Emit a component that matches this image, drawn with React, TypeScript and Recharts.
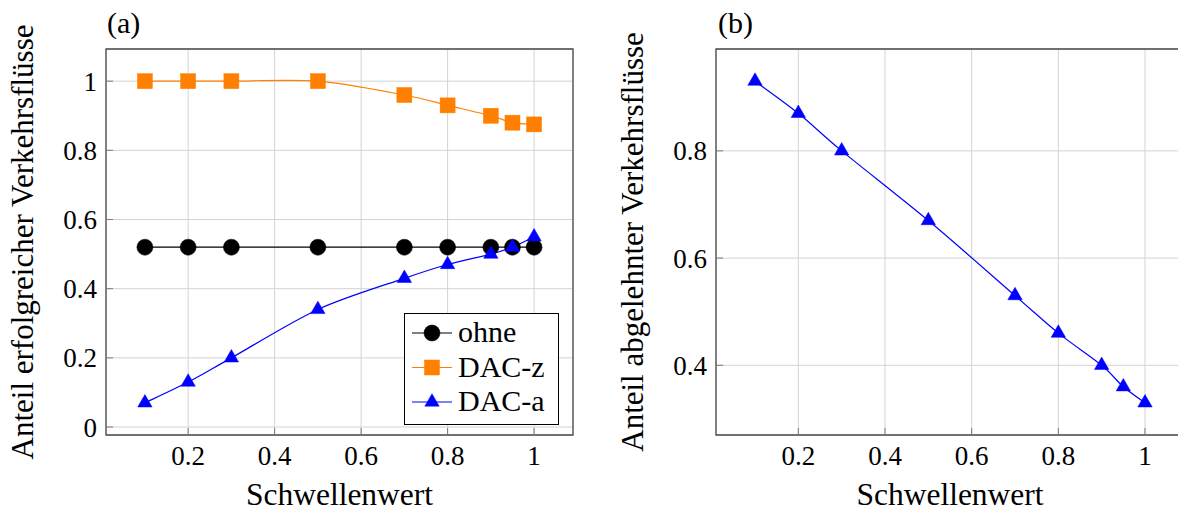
import React from 'react';
import { LineChart, Line, XAxis, YAxis, CartesianGrid, ReferenceArea, Legend } from 'recharts';

// ---- data ----
const thresholds = [0.1, 0.2, 0.3, 0.5, 0.7, 0.8, 0.9, 0.95, 1.0];
const ohne = [0.52, 0.52, 0.52, 0.52, 0.52, 0.52, 0.52, 0.52, 0.52];
const dacZ = [1.0, 1.0, 1.0, 1.0, 0.96, 0.93, 0.9, 0.88, 0.875];
const dacA = [0.07, 0.13, 0.2, 0.34, 0.43, 0.47, 0.5, 0.52, 0.55];
const rejected = [0.93, 0.87, 0.8, 0.67, 0.53, 0.46, 0.4, 0.36, 0.33];

const xTicks = [0.2, 0.4, 0.6, 0.8, 1];
const yTicksA = [0, 0.2, 0.4, 0.6, 0.8, 1];
const yTicksB = [0.4, 0.6, 0.8];
const xDomain: [number, number] = [0.01, 1.09];
const yDomainA: [number, number] = [-0.023, 1.093];
const yDomainB: [number, number] = [0.27, 0.99];

const seriesA = [
  { key: 'ohne', name: 'ohne', color: '#000000', marker: 'circle' },
  { key: 'dacZ', name: 'DAC-z', color: '#FF8000', marker: 'square' },
  { key: 'dacA', name: 'DAC-a', color: '#0000FF', marker: 'triangle' },
];

const dataA = thresholds.map((x, i) => ({ x, ohne: ohne[i], dacZ: dacZ[i], dacA: dacA[i] }));
const dataB = thresholds.map((x, i) => ({ x, rej: rejected[i] }));

const FONT = "'Liberation Serif', 'Times New Roman', Tinos, 'DejaVu Serif', 'Noto Serif', serif";

// TikZ-like smooth curve (cardinal spline)
const tikzSmooth = (context: any) => {
  let pts: [number, number][] = [];
  const k = 0.1526;
  return {
    areaStart() {},
    areaEnd() {},
    lineStart() {
      pts = [];
    },
    point(x: number, y: number) {
      pts.push([+x, +y]);
    },
    lineEnd() {
      const n = pts.length;
      if (!n) return;
      context.moveTo(pts[0][0], pts[0][1]);
      for (let i = 0; i < n - 1; i++) {
        const p0 = pts[Math.max(0, i - 1)];
        const p1 = pts[i];
        const p2 = pts[i + 1];
        const p3 = pts[Math.min(n - 1, i + 2)];
        context.bezierCurveTo(
          p1[0] + k * (p2[0] - p0[0]),
          p1[1] + k * (p2[1] - p0[1]),
          p2[0] - k * (p3[0] - p1[0]),
          p2[1] - k * (p3[1] - p1[1]),
          p2[0],
          p2[1]
        );
      }
    },
  };
};

const MarkerShape = ({ cx, cy, shape, color }: { cx: number; cy: number; shape: string; color: string }) => {
  if (cx == null || cy == null) return null;
  if (shape === 'circle') return <circle cx={cx} cy={cy} r={8} fill={color} stroke={color} strokeWidth={0.5} />;
  if (shape === 'square') return <rect x={cx - 7.5} y={cy - 7.5} width={15} height={15} fill={color} stroke={color} strokeWidth={0.5} />;
  const r = 8.3;
  const pts = `${cx},${cy - r} ${cx + 0.866 * r},${cy + 0.5 * r} ${cx - 0.866 * r},${cy + 0.5 * r}`;
  return <polygon points={pts} fill={color} stroke={color} strokeWidth={0.5} />;
};

const makeDot = (shape: string, color: string) => (props: any) => (
  <MarkerShape key={`${shape}-${props.index}`} cx={props.cx} cy={props.cy} shape={shape} color={color} />
);

const fmt = (v: number) => String(v);

const textCss = { fontFamily: FONT };
const tickStyle = { fontFamily: FONT, fontSize: 27, fill: '#000', style: textCss };
const TICK_LINE = { stroke: '#7a7a7a', strokeWidth: 1 };

const yLabel = (text: string) => (props: any) => {
  const vb = props.viewBox || {};
  const cx = vb.x + vb.width - 73;
  const cy = vb.y + vb.height / 2;
  return (
    <text
      x={cx}
      y={cy}
      transform={`rotate(-90, ${cx}, ${cy})`}
      textAnchor="middle"
      fontSize={31}
      fill="#000"
      style={textCss}
    >
      {text}
    </text>
  );
};

const LegendBox = () => (
  <svg width={156} height={113} style={{ display: 'block' }}>
    <rect x={0.5} y={0.5} width={154} height={111} fill="#fff" stroke="#000" strokeWidth={1} />
    {seriesA.map((s, i) => {
      const cy = 20 + i * 34.5;
      return (
        <g key={s.key}>
          <line x1={8} x2={48} y1={cy} y2={cy} stroke={s.color} strokeWidth={1.2} />
          <MarkerShape cx={28} cy={cy} shape={s.marker} color={s.color} />
          <text x={54} y={cy + 9} fontSize={30} fill="#000" style={textCss}>
            {s.name}
          </text>
        </g>
      );
    })}
  </svg>
);

const GRID = '#d3d3d3';
const FRAME = '#4a4a4a';
const xLabelStyle = { fontFamily: FONT, fontSize: 31.5, fill: '#000' };

const Frame = ({
  yDomain,
  yTicks,
}: {
  yDomain: [number, number];
  yTicks: number[];
}) => null;

export default function App() {
  return (
    <div
      style={{
        position: 'absolute',
        left: 0,
        top: 0,
        width: 1178,
        height: 511,
        overflow: 'hidden',
        background: '#fff',
        fontFamily: FONT,
      }}
    >
      <div style={{ position: 'absolute', left: 0, top: 0 }}>
        <LineChart width={600} height={511} data={dataA} margin={{ top: 49, right: 27, bottom: 0, left: 0 }}>
          <CartesianGrid stroke={GRID} strokeWidth={1} />
          <XAxis
            dataKey="x"
            type="number"
            domain={xDomain}
            ticks={xTicks}
            allowDataOverflow
            height={76}
            tickFormatter={fmt}
            tick={tickStyle}
            tickLine={TICK_LINE}
            tickSize={-7}
            axisLine={false}
            tickMargin={18}
            label={{ value: 'Schwellenwert', position: 'insideBottom', offset: 6, style: xLabelStyle }}
          />
          <XAxis
            xAxisId="top"
            orientation="top"
            dataKey="x"
            type="number"
            domain={xDomain}
            ticks={xTicks}
            allowDataOverflow
            height={0}
            tick={false}
            tickLine={TICK_LINE}
            tickSize={-7}
            axisLine={false}
          />
          <YAxis
            type="number"
            domain={yDomainA}
            ticks={yTicksA}
            allowDataOverflow
            width={106}
            tickFormatter={fmt}
            tick={tickStyle}
            tickLine={TICK_LINE}
            tickSize={-7}
            axisLine={false}
            tickMargin={16}
            label={{ content: yLabel('Anteil erfolgreicher Verkehrsflüsse') }}
          />
          <YAxis
            yAxisId="right"
            orientation="right"
            type="number"
            domain={yDomainA}
            ticks={yTicksA}
            allowDataOverflow
            width={0}
            tick={false}
            tickLine={TICK_LINE}
            tickSize={-7}
            axisLine={false}
          />
          <ReferenceArea x1={xDomain[0]} x2={xDomain[1]} y1={yDomainA[0]} y2={yDomainA[1]} fill="none" stroke={FRAME} strokeWidth={1.3} ifOverflow="visible" />
          {seriesA.map((s) => (
            <Line
              key={s.key}
              dataKey={s.key}
              name={s.name}
              type={tikzSmooth as any}
              stroke={s.color}
              strokeWidth={1.2}
              dot={makeDot(s.marker, s.color)}
              activeDot={false}
              isAnimationActive={false}
            />
          ))}
          <Legend
            layout="vertical"
            align="center"
            verticalAlign="middle"
            wrapperStyle={{ left: 404, top: 313, width: 156, height: 113 }}
            content={() => <LegendBox />}
          />
        </LineChart>
      </div>
      <div style={{ position: 'absolute', left: 600, top: 0 }}>
        <LineChart width={600} height={511} data={dataB} margin={{ top: 49, right: 16, bottom: 0, left: 0 }}>
          <CartesianGrid stroke={GRID} strokeWidth={1} />
          <XAxis
            dataKey="x"
            type="number"
            domain={xDomain}
            ticks={xTicks}
            allowDataOverflow
            height={76}
            tickFormatter={fmt}
            tick={tickStyle}
            tickLine={TICK_LINE}
            tickSize={-7}
            axisLine={false}
            tickMargin={18}
            label={{ value: 'Schwellenwert', position: 'insideBottom', offset: 6, style: xLabelStyle }}
          />
          <XAxis
            xAxisId="top"
            orientation="top"
            dataKey="x"
            type="number"
            domain={xDomain}
            ticks={xTicks}
            allowDataOverflow
            height={0}
            tick={false}
            tickLine={TICK_LINE}
            tickSize={-7}
            axisLine={false}
          />
          <YAxis
            type="number"
            domain={yDomainB}
            ticks={yTicksB}
            allowDataOverflow
            width={116}
            tickFormatter={fmt}
            tick={tickStyle}
            tickLine={TICK_LINE}
            tickSize={-7}
            axisLine={false}
            tickMargin={16}
            label={{ content: yLabel('Anteil abgelehnter Verkehrsflüsse') }}
          />
          <ReferenceArea x1={xDomain[0]} x2={xDomain[1]} y1={yDomainB[0]} y2={yDomainB[1]} fill="none" stroke={FRAME} strokeWidth={1.3} ifOverflow="visible" />
          <Line
            dataKey="rej"
            name="DAC-a"
            type={tikzSmooth as any}
            stroke="#0000FF"
            strokeWidth={1.2}
            dot={makeDot('triangle', '#0000FF')}
            activeDot={false}
            isAnimationActive={false}
          />
        </LineChart>
      </div>
      <svg width={1178} height={511} style={{ position: 'absolute', left: 0, top: 0, pointerEvents: 'none' }}>
        <text x={107} y={33} fontSize={30} fill="#000" style={textCss}>(a)</text>
        <text x={718} y={33} fontSize={30} fill="#000" style={textCss}>(b)</text>
      </svg>
    </div>
  );
}
